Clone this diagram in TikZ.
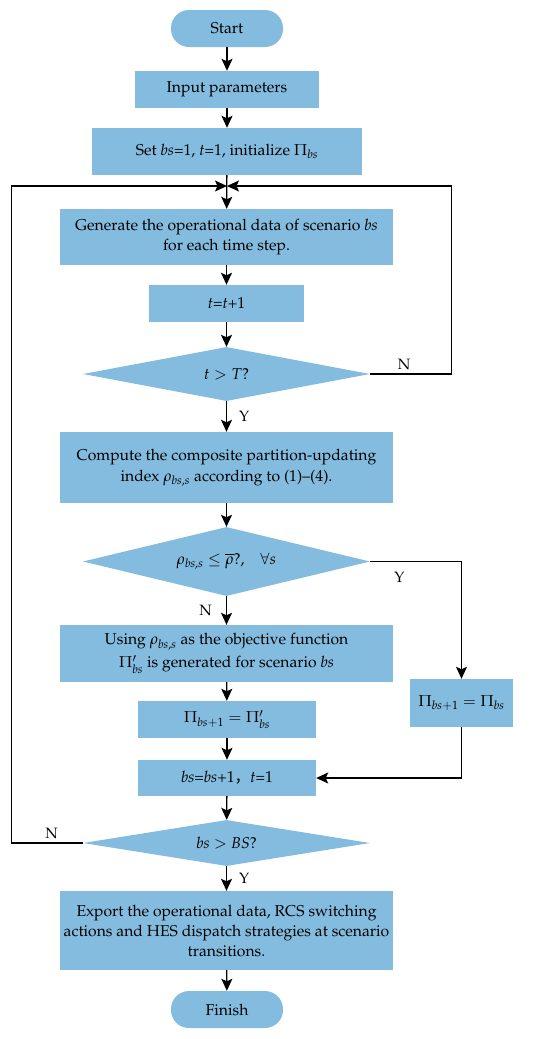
\documentclass[tikz,border=0pt]{standalone}
\usepackage{fontspec}
\newfontfamily\cjk{Noto Sans CJK SC}
\usepackage[OT1]{fontenc}
\usepackage{mathpazo}
\usepackage{amsmath,amssymb}
\usetikzlibrary{shapes.geometric,arrows.meta}
\definecolor{boxblue}{RGB}{132,188,223}
\tikzset{
	stepbox/.style={rectangle, fill=boxblue, inner sep=0pt, align=center, font=\fontsize{15.7}{20}\selectfont},
	termbox/.style={stepbox, rounded corners=18pt, minimum width=112pt, minimum height=37pt},
	testbox/.style={diamond, fill=boxblue, inner sep=0pt, minimum width=287pt, font=\fontsize{15.7}{20}\selectfont},
	yn/.style={font=\fontsize{15}{15}\selectfont, inner sep=0pt},
	flow/.style={-{Stealth[length=12pt,width=11pt,inset=2.5pt]}, line width=1.3pt},
	loop/.style={flow, line width=1.1pt}
}
\begin{document}
\begin{tikzpicture}[x=1pt,y=-1pt]
	\useasboundingbox (0,0) rectangle (550,1039);
	\node[termbox] (start) at (227,28.5) {Start};
	\node[stepbox, minimum width=184pt, minimum height=37pt] (input) at (227,89.5) {Input parameters};
	\node[stepbox, minimum width=270pt, minimum height=47pt] (set) at (227,151.5) {Set \textit{bs}=1, \textit{t}=1, initialize $\Pi_{\mathit{bs}}$};
	\node[stepbox, minimum width=333pt, minimum height=56pt] (gen) at (226.5,237) {Generate the operational data of scenario \textit{bs}\\ for each time step.};
	\node[stepbox, minimum width=155pt, minimum height=37pt] (tinc) at (226.5,303.5) {\textit{t}=\textit{t}+1};
	\node[testbox, shape aspect=5.3, minimum height=54pt] (tend) at (226.5,374) {$t>T$?};
	\node[stepbox, minimum width=333pt, minimum height=71pt] (comp) at (226.5,467.5) {Compute the composite partition-updating\\[1pt] index $\rho_{\mathit{bs},s}$ according to (1)--(4).};
	\node[testbox, shape aspect=4.16, minimum height=69pt] (check) at (226.5,561.5) {$\rho_{\mathit{bs},s}\leq\overline{\rho}$?,\quad $\forall s$};
	\node[stepbox, minimum width=333pt, minimum height=57pt] (using) at (226.5,653.5) {Using $\rho_{\mathit{bs},s}$ as the objective function\\[3pt] $\Pi_{\mathit{bs}}'$ is generated for scenario \textit{bs}};
	\node[stepbox, minimum width=178pt, minimum height=37pt] (pinew) at (227,719.5) {$\Pi_{\mathit{bs}+1}=\Pi_{\mathit{bs}}'$};
	\node[stepbox, minimum width=103pt, minimum height=48pt] (pikeep) at (461.5,703) {$\Pi_{\mathit{bs}+1}=\Pi_{\mathit{bs}}$};
	\node[stepbox, minimum width=178pt, minimum height=36pt] (bsinc) at (227,778) {\textit{bs}=\textit{bs}+1{\cjk ，}\textit{t}=1};
	\node[testbox, shape aspect=6.24, minimum height=46pt] (bsend) at (226.5,843) {$\mathit{bs}>\mathit{BS}$?};
	\node[stepbox, minimum width=333pt, minimum height=79pt] (export) at (226.5,930.5) {Export the operational data, RCS switching\\ actions and HES dispatch strategies at scenario\\ transitions.};
	\node[termbox] (finish) at (227,1009.5) {Finish};
	\coordinate (join) at (227,186);
	\path[flow]
	(start) edge (input)
	(input) edge (set)
	(set) edge (gen)
	(gen) edge (tinc)
	(tinc) edge (tend)
	(tend) edge node[yn, right=12pt] {Y} (comp)
	(comp) edge (check)
	(check) edge node[yn, left=14pt] {N} (using)
	(using) edge (pinew)
	(pinew) edge (bsinc)
	(bsinc) edge (bsend)
	(bsend) edge node[yn, right=12pt] {Y} (export)
	(export) edge (finish);
	\draw[loop] (tend.east) -- node[yn, above=4pt, pos=0.42] {N} ++(81,0) |- (join);
	\draw[loop] (bsend.west) -- node[yn, above=4pt, pos=0.44] {N} ++(-71,0) |- (join);
	\draw[loop] (check.east) -| node[yn, below=10pt, pos=0.16] {Y} (pikeep.north);
	\draw[loop] (pikeep.south) |- (bsinc.east);
\end{tikzpicture}
\end{document}
